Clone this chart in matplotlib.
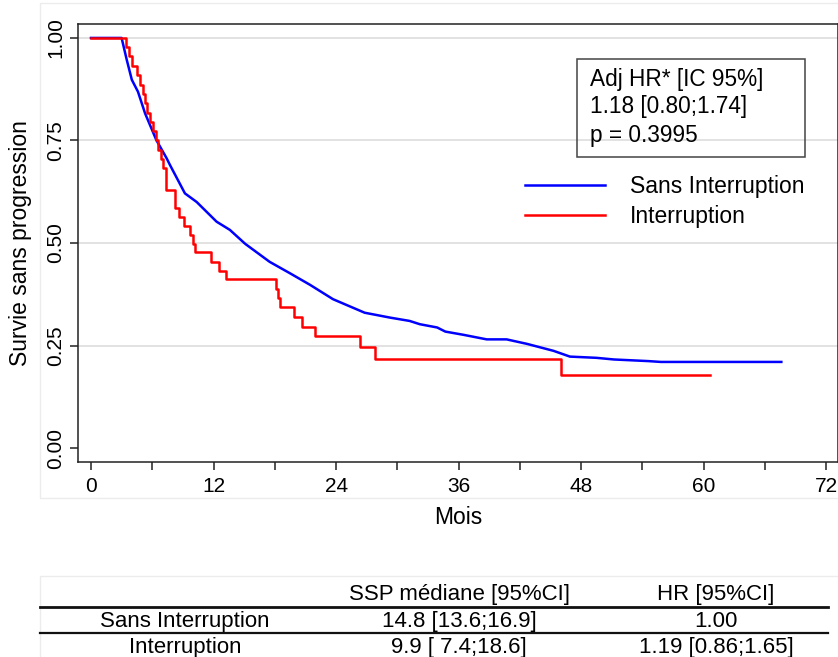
import matplotlib
matplotlib.use("Agg")
import matplotlib.pyplot as plt
from matplotlib.patches import Rectangle

plt.rcParams['font.family'] = ['Liberation Sans', 'DejaVu Sans']

# Kaplan-Meier curves (months, survival)
red_t = [0, 3.4, 3.7, 4.0, 4.5, 4.8, 5.1, 5.3, 5.5, 5.8, 6.1, 6.4, 6.6, 6.9, 7.1,
         7.3, 8.2, 8.65, 9.14, 9.7, 9.96, 10.2, 11.75, 12.57, 13.2, 18.1, 18.3,
         18.5, 19.9, 20.7, 21.9, 26.35, 27.8, 46.0, 60.6]
red_s = [1.0, 0.977, 0.955, 0.932, 0.909, 0.886, 0.864, 0.841, 0.818, 0.795, 0.773,
         0.750, 0.727, 0.705, 0.682, 0.629, 0.585, 0.564, 0.541, 0.520, 0.498,
         0.477, 0.454, 0.432, 0.412, 0.388, 0.366, 0.343, 0.319, 0.296, 0.274,
         0.247, 0.217, 0.178, 0.178]

blue_t = [0, 3.0, 3.5, 4.0, 4.6, 5.3, 6.4, 7.4, 7.74, 9.2, 10.35, 12.3, 13.6, 15.1,
          17.5, 19.5, 21.45, 23.7, 26.8, 29.3, 31.2, 32.2, 33.9, 34.7, 36.5, 38.75,
          40.7, 42.7, 45.3, 46.9, 49.5, 51.2, 54.6, 55.8, 67.6]
blue_s = [1.0, 1.0, 0.947, 0.898, 0.869, 0.816, 0.751, 0.707, 0.690, 0.621, 0.600,
          0.552, 0.532, 0.498, 0.454, 0.426, 0.398, 0.363, 0.330, 0.318, 0.310,
          0.302, 0.294, 0.284, 0.276, 0.265, 0.265, 0.254, 0.237, 0.223, 0.220,
          0.216, 0.212, 0.210, 0.210]

groups = ["Sans Interruption", "Interruption"]
box_lines = ["Adj HR* [IC 95%]", "1.18 [0.80;1.74]", "p = 0.3995"]

table_header = ["SSP médiane [95%CI]", "HR [95%CI]"]
table_ssp = ["14.8 [13.6;16.9]", "9.9 [ 7.4;18.6]"]
table_hr = ["1.00", "1.19 [0.86;1.65]"]

W, H = 838, 657
fig = plt.figure(figsize=(W / 100, H / 100), dpi=100)

# pixel overlay for the table and the faint frame borders
ov = fig.add_axes([0, 0, 1, 1])
ov.set_xlim(0, W)
ov.set_ylim(H, 0)
ov.axis("off")
ov.add_patch(Rectangle((40, 3), 840, 495, fill=False, ec="#ececec", lw=1))
ov.add_patch(Rectangle((40, 576), 840, 100, fill=False, ec="#ececec", lw=1))

ax = fig.add_axes([78 / W, 1 - 462 / H, (W - 78) / W, (462 - 24) / H])
ax.set_facecolor("none")

ax.plot(blue_t, blue_s, color="#0000ff", lw=1.8, label=groups[0])
ax.step(red_t, red_s, where="post", color="#ff0000", lw=1.8, label=groups[1])

ax.set_xlim(-1.27, 73.15)
ax.set_ylim(-0.034, 1.034)
ax.set_xticks(range(0, 73, 12))
ax.set_xticks(range(6, 73, 12), minor=True)
ax.set_yticks([0, 0.25, 0.5, 0.75, 1.0])
ax.set_yticklabels(["0.00", "0.25", "0.50", "0.75", "1.00"])
for v in [0.25, 0.5, 0.75, 1.0]:
    ax.axhline(v, color="#dddddd", lw=1.2, zorder=0)

ax.tick_params(axis="both", which="both", direction="out", length=6, width=1.1,
               color="#222222", labelsize=15)
ax.tick_params(axis="x", pad=5)
ax.tick_params(axis="y", pad=3)
for lab in ax.get_yticklabels():
    lab.set_rotation(90)
    lab.set_va("center")
for sp in ax.spines.values():
    sp.set_linewidth(1.1)
    sp.set_color("#222222")

ax.set_xlabel("Mois", fontsize=16.5)
ax.set_ylabel("Survie sans progression", fontsize=16.5)
ax.xaxis.set_label_coords(0.5, -(506 - 462) / 438)
ax.yaxis.set_label_coords(-(78 - 32) / 760, 0.5)

# stats box
ax.add_patch(Rectangle((47.6, 0.710), 22.3, 0.239, fill=False, ec="#444444", lw=1.1))
for txt, yv in zip(box_lines, [0.898, 0.832, 0.763]):
    ax.text(48.9, yv, txt, fontsize=16.3, va="center", ha="left")

ax.legend(loc="upper left", bbox_to_anchor=(0.588, 0.655), frameon=False,
          fontsize=16.5, handlelength=3.5, handletextpad=1.1, labelspacing=0.32,
          borderpad=0, borderaxespad=0)

# summary table
tfs = 16
ov.text(459, 600, table_header[0], fontsize=tfs, ha="center", va="baseline")
ov.text(716, 600, table_header[1], fontsize=tfs, ha="center", va="baseline")
ov.plot([40, 828], [607, 607], color="#111111", lw=2)
ov.plot([40, 828], [633, 633], color="#111111", lw=1.6)
for i, yv in enumerate([627, 653]):
    ov.text(185, yv, groups[i], fontsize=tfs, ha="center", va="baseline")
    ov.text(459, yv, table_ssp[i], fontsize=tfs, ha="center", va="baseline")
    ov.text(716, yv, table_hr[i], fontsize=tfs, ha="center", va="baseline")

fig.savefig("out.png", dpi=100)
